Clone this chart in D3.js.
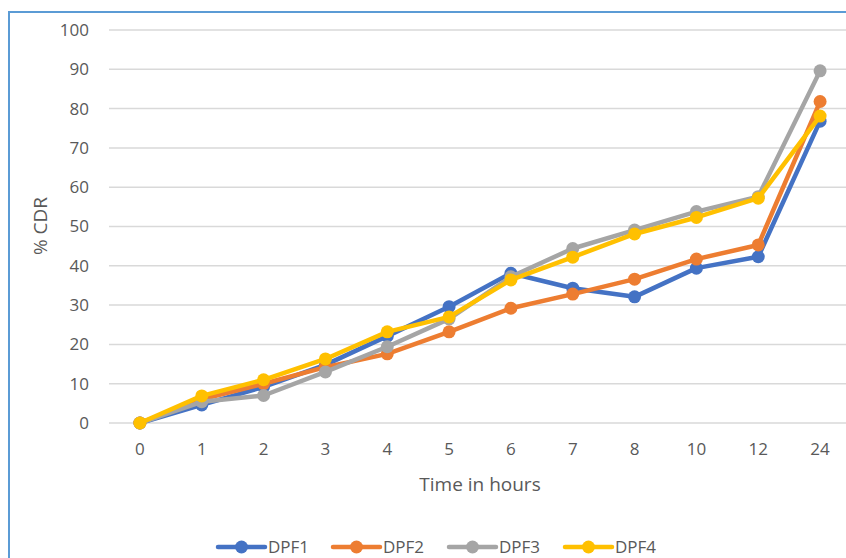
<!DOCTYPE html>
<html>
<head>
<meta charset="utf-8">
<script src="https://cdn.jsdelivr.net/npm/d3@7"></script>
<style>
  html, body { margin: 0; padding: 0; background: #fff; }
  svg { display: block; font-family: "Open Sans", Lato, sans-serif; }
</style>
</head>
<body>
<div id="frame"></div>
<script>
// time points (categorical axis)
const hours = ["0", "1", "2", "3", "4", "5", "6", "7", "8", "10", "12", "24"];
const seriesNames = ["DPF1", "DPF2", "DPF3", "DPF4"];
const seriesColors = ["#4472C4", "#ED7D31", "#A5A5A5", "#FFC000"];
const dpf1 = [0, 4.6, 9.2, 14.8, 22.1, 29.6, 38.1, 34.3, 32.1, 39.4, 42.3, 76.8];
const dpf2 = [0, 6.0, 10.0, 14.2, 17.6, 23.2, 29.2, 32.8, 36.6, 41.7, 45.3, 81.8];
const dpf3 = [0, 5.4, 7.0, 13.0, 19.4, 26.5, 37.2, 44.4, 49.1, 53.8, 57.6, 89.6];
const dpf4 = [0, 6.9, 11.0, 16.3, 23.2, 27.0, 36.4, 42.2, 48.1, 52.3, 57.2, 78.1];
const yTicks = [0, 10, 20, 30, 40, 50, 60, 70, 80, 90, 100];

const width = 846, height = 558;
const allSeries = [dpf1, dpf2, dpf3, dpf4];

const svg = d3.select("#frame")
  .append("svg")
  .attr("width", width)
  .attr("height", height);

// chart frame border (only top and left are visible in the crop)
svg.append("path")
  .attr("d", `M9,${height} L9,12 L${width},12`)
  .attr("fill", "none")
  .attr("stroke", "#5B9BD5")
  .attr("stroke-width", 2);

const x = d3.scaleBand().domain(hours).range([109, 851]).paddingInner(0).paddingOuter(0);
const y = d3.scaleLinear().domain([0, 100]).range([423, 30]);
const cx = (h) => x(h) + x.bandwidth() / 2;

// gridlines
svg.append("g")
  .selectAll("line")
  .data(yTicks)
  .join("line")
  .attr("x1", 109)
  .attr("x2", 851)
  .attr("y1", (d) => y(d))
  .attr("y2", (d) => y(d))
  .attr("stroke", "#d9d9d9")
  .attr("stroke-width", 1.5);

// y tick labels
svg.append("g")
  .selectAll("text")
  .data(yTicks)
  .join("text")
  .attr("x", 89)
  .attr("y", (d) => y(d))
  .attr("dy", "0.35em")
  .attr("text-anchor", "end")
  .attr("fill", "#595959")
  .attr("font-size", 17)
  .text((d) => d);

// x tick labels
svg.append("g")
  .selectAll("text")
  .data(hours)
  .join("text")
  .attr("x", (d) => cx(d))
  .attr("y", 449)
  .attr("dy", "0.35em")
  .attr("text-anchor", "middle")
  .attr("fill", "#595959")
  .attr("font-size", 17)
  .text((d) => d);

// axis titles
svg.append("text")
  .attr("x", 480)
  .attr("y", 484)
  .attr("dy", "0.35em")
  .attr("text-anchor", "middle")
  .attr("fill", "#595959")
  .attr("font-size", 19)
  .text("Time in hours");

svg.append("text")
  .attr("transform", "translate(40,226) rotate(-90)")
  .attr("dy", "0.35em")
  .attr("text-anchor", "middle")
  .attr("fill", "#595959")
  .attr("font-size", 19)
  .text("% CDR");

// series
const line = d3.line()
  .x((d, i) => cx(hours[i]))
  .y((d) => y(d));

allSeries.forEach((vals, k) => {
  const g = svg.append("g");
  g.append("path")
    .datum(vals)
    .attr("d", line)
    .attr("fill", "none")
    .attr("stroke", seriesColors[k])
    .attr("stroke-width", 4.5)
    .attr("stroke-linejoin", "round")
    .attr("stroke-linecap", "round");
  g.selectAll("circle")
    .data(vals)
    .join("circle")
    .attr("cx", (d, i) => cx(hours[i]))
    .attr("cy", (d) => y(d))
    .attr("r", 6.5)
    .attr("fill", seriesColors[k]);
});

// legend
const legendX = [218, 333, 449, 565];
const legend = svg.append("g");
seriesNames.forEach((name, k) => {
  const lg = legend.append("g").attr("transform", `translate(${legendX[k]},547)`);
  lg.append("line")
    .attr("x1", 0).attr("x2", 47)
    .attr("stroke", seriesColors[k])
    .attr("stroke-width", 4.5)
    .attr("stroke-linecap", "round");
  lg.append("circle").attr("cx", 23.5).attr("r", 6.5).attr("fill", seriesColors[k]);
  lg.append("text")
    .attr("x", 50)
    .attr("dy", "0.35em")
    .attr("fill", "#595959")
    .attr("font-size", 17)
    .text(name);
});
</script>
</body>
</html>
